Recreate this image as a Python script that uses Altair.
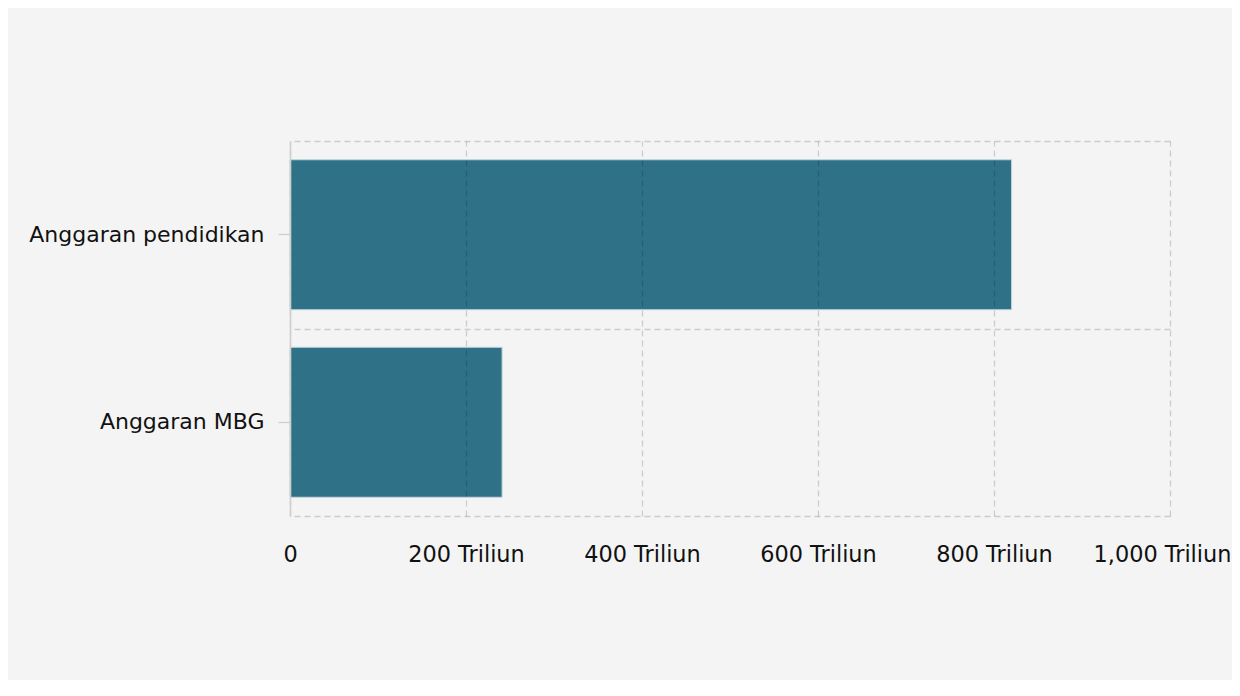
import altair as alt
import pandas as pd

categories = ["Anggaran pendidikan", "Anggaran MBG"]
values = [820, 241]
tick_values = [0, 200, 400, 600, 800, 1000]

df = pd.DataFrame({"kategori": categories, "nilai": values})

FONT = "DejaVu Sans"
GRID = "#000000"
BAR = "#2f7287"

y_scale = alt.Scale(domain=categories, paddingInner=0, paddingOuter=0)
x_scale = alt.Scale(domain=[0, 1000], nice=False)

x_axis = alt.Axis(
    values=tick_values,
    title=None,
    grid=True,
    gridColor=GRID,
    gridOpacity=0.16,
    gridDash=[6, 4],
    gridWidth=1.3,
    domain=False,
    ticks=False,
    labelExpr="datum.value == 0 ? '0' : format(datum.value, ',') + ' Triliun'",
    labelFont=FONT,
    labelFontSize=22.4,
    labelColor="#111111",
    labelPadding=27,
    labelOffset={"condition": {"test": "datum.value == 1000", "value": -8}, "value": 0},
    labelOverlap=False,
    labelFlush=False,
    labelLimit=400,
    zindex=1,
)

bars = alt.Chart(df).mark_bar(
    color=BAR,
    height={"band": 0.8},
    stroke="#c3d6dc",
    strokeWidth=1,
).encode(
    x=alt.X("nilai:Q", scale=x_scale, axis=x_axis),
    y=alt.Y(
        "kategori:N",
        sort=categories,
        scale=y_scale,
        axis=alt.Axis(
            title=None,
            grid=False,
            domain=True,
            domainColor="#cfcfcf",
            domainWidth=1.6,
            ticks=True,
            tickColor="#cfcfcf",
            tickSize=12,
            tickWidth=1.3,
            labelPadding=14,
            labelLimit=400,
            labelFont=FONT,
            labelFontSize=22,
            labelColor="#111111",
            zindex=1,
        ),
    ),
)

grid_layer = alt.Chart(df).mark_bar(opacity=0, height={"band": 0.8}).encode(
    x=alt.X("nilai:Q", scale=x_scale, axis=x_axis),
    y=alt.Y(
        "kategori:N",
        sort=categories,
        scale=y_scale,
        axis=alt.Axis(
            orient="right",
            title=None,
            grid=True,
            tickBand="extent",
            gridColor=GRID,
            gridOpacity=0.16,
            gridDash=[6, 4],
            gridWidth=1.3,
            labels=False,
            ticks=False,
            domain=False,
        ),
    ),
)

chart = (
    alt.layer(bars, grid_layer)
    .resolve_axis(y="independent")
    .properties(
        width=880,
        height=375,
        padding={"left": 282, "top": 133, "right": 62, "bottom": 164},
        autosize=alt.AutoSizeParams(type="none"),
        background="#f4f4f4",
    )
    .configure_view(stroke="transparent")
)

chart.save("out.html", embed_options={"renderer": "svg", "actions": False})
